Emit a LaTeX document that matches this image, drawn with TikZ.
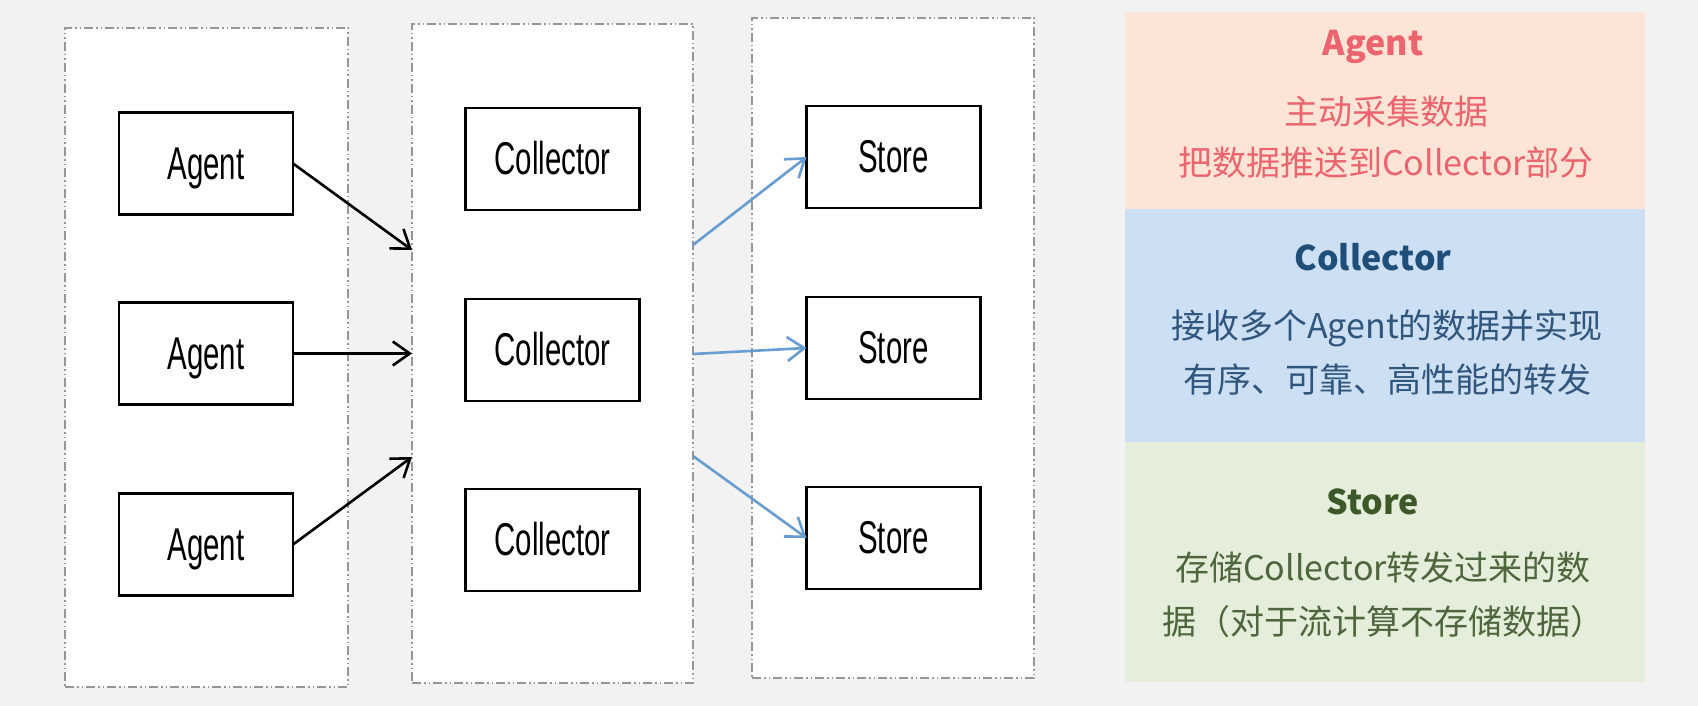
\documentclass[tikz,border=0pt]{standalone}
\usepackage{fontspec}
\setmainfont{Liberation Sans}
\newfontfamily\narrowfont[FakeStretch=0.64]{Liberation Sans}
\newfontfamily\cjk{Noto Sans CJK SC}
\usetikzlibrary{arrows.meta}
\definecolor{bgcol}{RGB}{242,242,242}
\definecolor{framecol}{RGB}{150,150,150}
\definecolor{bluearrow}{RGB}{104,157,210}
\definecolor{agentfill}{RGB}{252,228,214}
\definecolor{agenttext}{RGB}{236,100,110}
\definecolor{collfill}{RGB}{205,224,243}
\definecolor{collhead}{RGB}{31,78,121}
\definecolor{colltext}{RGB}{48,86,126}
\definecolor{storefill}{RGB}{228,238,218}
\definecolor{storehead}{RGB}{60,88,40}
\definecolor{storetext}{RGB}{78,102,62}
\tikzset{
  container/.style={draw=framecol, fill=white, line width=1.5pt,
    dash pattern=on 9pt off 3pt on 1.5pt off 3pt on 1.5pt off 3pt,
    inner sep=0pt, outer sep=0pt},
  box/.style={draw=black, fill=white, line width=2.4pt, inner sep=0pt, outer sep=0pt,
    minimum width=174pt, minimum height=102pt, text height=33pt, text depth=2pt,
    font=\narrowfont\fontsize{46}{50}\selectfont},
  blackarrow/.style={draw=black, line width=2.6pt,
    -{Straight Barb[length=17pt,width=24pt]}},
  bluearr/.style={draw=bluearrow, line width=2.6pt,
    -{Straight Barb[length=17pt,width=24pt]}},
  panel/.style={draw=none, inner sep=0pt, outer sep=0pt, minimum width=520pt},
  head/.style={font=\cjk\bfseries\fontsize{34}{40}\selectfont, inner sep=0pt},
  body/.style={font=\cjk\fontsize{34}{40}\selectfont, inner sep=0pt}
}
\begin{document}
\begin{tikzpicture}[x=1pt,y=-1pt]
\fill[bgcol] (0,0) rectangle (1698,706);
\useasboundingbox (0,0) rectangle (1698,706);

% containers
\node[container, minimum width=283pt, minimum height=659pt] (col1) at (206.5,357.5) {};
\node[container, minimum width=281pt, minimum height=659pt] (col2) at (552.5,353.5) {};
\node[container, minimum width=282pt, minimum height=660pt] (col3) at (893,348) {};

% boxes
\node[box] (a1) at (206,163.5) {Agent};
\node[box] (a2) at (206,353.5) {Agent};
\node[box] (a3) at (206,544.5) {Agent};
\node[box] (c1) at (552.5,159) {Collector};
\node[box] (c2) at (552.5,350) {Collector};
\node[box] (c3) at (552.5,540) {Collector};
\node[box] (s1) at (893.5,157) {Store};
\node[box] (s2) at (893.5,348) {Store};
\node[box] (s3) at (893.5,538) {Store};

% arrow end points on the collector container
\coordinate (in1) at (412,250);
\coordinate (in2) at (412,353.5);
\coordinate (in3) at (412,457);
\coordinate (out1) at (693,245);
\coordinate (out2) at (693,354);
\coordinate (out3) at (693,456);

\draw[blackarrow] (a1.east) -- (in1);
\draw[blackarrow] (a2.east) -- (in2);
\draw[blackarrow] (a3.east) -- (in3);
\draw[bluearr] (out1) -- (s1.west);
\draw[bluearr] (out2) -- (s2.west);
\draw[bluearr] (out3) -- (s3.west);

% right panels
\node[panel, fill=agentfill, minimum height=197pt] (pA) at (1385,111) {};
\node[panel, fill=collfill, minimum height=233pt] (pC) at (1385,325.5) {};
\node[panel, fill=storefill, minimum height=240pt] (pS) at (1385,562) {};

\node[head, text=agenttext] (hA) at (1373,47) {Agent};
\node[body, text=agenttext] (tA1) at (1386,112) {主动采集数据};
\node[body, text=agenttext] (tA2) at (1386,163) {把数据推送到Collector部分};

\node[head, text=collhead] (hC) at (1373,257) {Collector};
\node[body, text=colltext] (tC1) at (1387,328) {接收多个Agent的数据并实现};
\node[body, text=colltext] (tC2) at (1387,380) {有序、可靠、高性能的转发};

\node[head, text=storehead] (hS) at (1373,502) {Store};
\node[body, text=storetext] (tS1) at (1383,568) {存储Collector转发过来的数};
\node[body, text=storetext] (tS2) at (1383,622) {据（对于流计算不存储数据）};
\end{tikzpicture}
\end{document}
